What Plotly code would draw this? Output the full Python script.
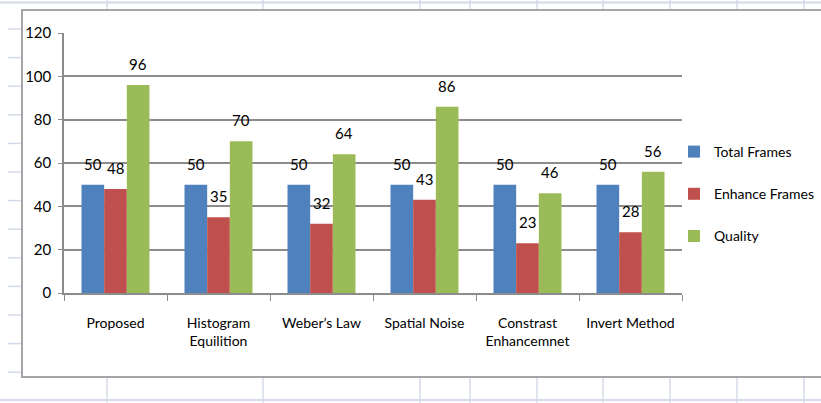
import plotly.graph_objects as go

categories = ["Proposed", "Histogram<br>Equilition", "Weber\u2019s Law", "Spatial Noise",
              "Constrast<br>Enhancemnet", "Invert Method"]
total_frames = [50, 50, 50, 50, 50, 50]
enhance_frames = [48, 35, 32, 43, 23, 28]
quality = [96, 70, 64, 86, 46, 56]
series_names = ["Total Frames", "Enhance Frames", "Quality"]
series_colors = ["#4F81BD", "#C0504D", "#9BBB59"]
y_ticks = [0, 20, 40, 60, 80, 100, 120]

FONT = "Lato, Open Sans, sans-serif"
W, H = 821, 403
L, R, T, B = 64, 682, 33, 293


def px(x):
    return (x - L) / (R - L)


def py(y):
    return (B - y) / (B - T)


fig = go.Figure()
series = [total_frames, enhance_frames, quality]
for name, vals, col in zip(series_names, series, series_colors):
    fig.add_trace(go.Bar(x=categories, y=vals, name=name, marker_color=col,
                         marker_line_width=0, legendgroup=name))

# data labels
bar_px = (R - L) / len(categories) * (1 - 0.34) / 3
annotations = []
for i, vals in enumerate(series):
    for c, v in zip(categories, vals):
        annotations.append(dict(x=c, y=v, xref="x", yref="y", text=str(v), showarrow=False,
                                xshift=(i - 1) * bar_px, yshift=21, yanchor="middle",
                                font=dict(family=FONT, size=15, color="#000000")))

shapes = []
grid_col = "#d4dbe8"
# spreadsheet background lines
for yy in [2.5, 400]:
    shapes.append(dict(type="line", xref="paper", yref="paper", x0=px(0), x1=px(W),
                       y0=py(yy), y1=py(yy), line=dict(color=grid_col, width=2), layer="below"))
for xx in [107, 263, 420, 470, 537, 603, 670, 737, 804]:
    for (a, b) in [(0, 10), (377, H)]:
        shapes.append(dict(type="line", xref="paper", yref="paper", x0=px(xx), x1=px(xx),
                           y0=py(a), y1=py(b), line=dict(color=grid_col, width=1.5),
                           layer="below"))
for k in range(13):
    yy = 29 + k * 28.6
    shapes.append(dict(type="line", xref="paper", yref="paper", x0=px(8), x1=px(22),
                       y0=py(yy), y1=py(yy), line=dict(color=grid_col, width=1.5), layer="below"))
# chart frame
shapes.append(dict(type="rect", xref="paper", yref="paper", x0=px(22), x1=px(830),
                   y0=py(10), y1=py(377), fillcolor="white",
                   line=dict(color="#a6a6a6", width=2), layer="below"))

fig.update_layout(
    width=W, height=H,
    margin=dict(l=L, r=W - R, t=T, b=H - B, autoexpand=False),
    paper_bgcolor="white", plot_bgcolor="rgba(0,0,0,0)",
    barmode="group", bargap=0.34, bargroupgap=0,
    font=dict(family=FONT, size=15, color="#000000"),
    showlegend=True,
    legend=dict(x=px(674), y=py(194), xanchor="left", yanchor="middle",
                font=dict(family=FONT, size=14), tracegroupgap=21,
                traceorder="grouped", itemwidth=30, bgcolor="rgba(0,0,0,0)"),
    annotations=annotations,
    shapes=shapes,
)
fig.update_yaxes(range=[0, 120], tickvals=y_ticks, showgrid=True, gridcolor="#8c8c8c",
                 gridwidth=1.5, showline=True, linecolor="#8c8c8c", linewidth=1.5,
                 ticks="outside", ticklen=4, tickcolor="#8c8c8c", zeroline=False,
                 tickfont=dict(size=15), ticklabelstandoff=4)
fig.update_xaxes(showline=True, linecolor="#8c8c8c", linewidth=1.5, ticks="outside",
                 tickson="boundaries", ticklen=6, tickcolor="#8c8c8c",
                 tickfont=dict(size=14), ticklabelstandoff=16)

fig.write_html("out.html", config={"displayModeBar": False},
               post_script="document.body.style.margin='0';")
